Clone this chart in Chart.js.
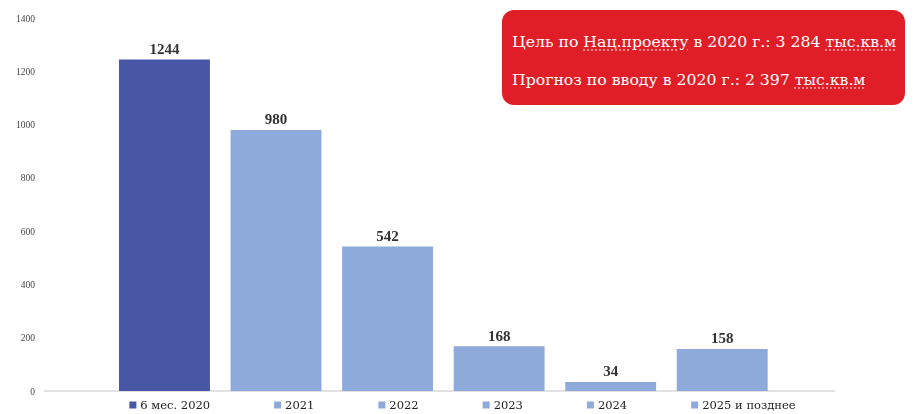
<!DOCTYPE html>
<html>
<head>
<meta charset="utf-8">
<script src="https://cdn.jsdelivr.net/npm/chart.js@4"></script>
<style>
    html, body { margin: 0; padding: 0; background: #fff; }
    #wrap { position: relative; width: 913px; height: 414px; }
    #note {
        position: absolute; left: 502px; top: 10px; width: 403px; height: 95px;
        box-sizing: border-box; background: #e01e27; border-radius: 12px;
        color: #fff; font-family: 'DejaVu Serif', serif; font-size: 15.7px;
        padding: 13px 0 0 10px; line-height: 38px; white-space: nowrap;
    }
    #note u { text-decoration: underline dotted rgba(255,255,255,0.6); text-underline-offset: 3px; }
</style>
</head>
<body>
<div id="wrap">
    <canvas id="chart" width="913" height="414"></canvas>
    <div id="note">
        Цель по <u>Нац.проекту</u> в 2020 г.: 3 284 <u>тыс.кв.м</u><br>
        Прогноз по вводу в 2020 г.: 2 397 <u>тыс.кв.м</u>
    </div>
</div>
<script>
// Данные
const categories = ['6 мес. 2020', '2021', '2022', '2023', '2024', '2025 и позднее'];
const values = [1244, 980, 542, 168, 34, 158];
const yTicks = [0, 200, 400, 600, 800, 1000, 1200, 1400];

const darkBlue = '#4757a6';
const lightBlue = '#8eaadb';
const barColors = categories.map((c, i) => i === 0 ? darkBlue : lightBlue);
const serif = "'Liberation Serif', 'DejaVu Serif', serif";
const wideSerif = "'DejaVu Serif', serif";

// Подписи значений над столбцами
const valueLabels = {
    id: 'valueLabels',
    afterDatasetsDraw(chart) {
        const ctx = chart.ctx;
        const meta = chart.getDatasetMeta(0);
        ctx.save();
        ctx.font = 'bold 15px ' + serif;
        ctx.fillStyle = '#333';
        ctx.textAlign = 'center';
        ctx.textBaseline = 'bottom';
        meta.data.forEach((bar, i) => {
            ctx.fillText(values[i], bar.x, bar.y - 2);
        });
        ctx.restore();
    }
};

// Ось Y: подписи слева, базовая линия шире области графика
const yAxisDraw = {
    id: 'yAxisDraw',
    beforeDatasetsDraw(chart) {
        const ctx = chart.ctx;
        const scale = chart.scales.y;
        const y0 = scale.getPixelForValue(0);
        ctx.save();
        ctx.strokeStyle = '#d9d9d9';
        ctx.lineWidth = 1.5;
        ctx.beginPath();
        ctx.moveTo(chart.chartArea.left - 65, y0);
        ctx.lineTo(chart.chartArea.right + 57, y0);
        ctx.stroke();

        ctx.font = '9.5px ' + serif;
        ctx.fillStyle = '#444';
        ctx.textAlign = 'right';
        ctx.textBaseline = 'middle';
        yTicks.forEach(v => {
            ctx.fillText(v, 35, scale.getPixelForValue(v) + 1);
        });
        ctx.restore();
    }
};

// Легенда снизу, элементы с равными промежутками
const bottomLegend = {
    id: 'bottomLegend',
    afterDraw(chart) {
        const ctx = chart.ctx;
        const gap = 64, box = 7, boxGap = 4;
        ctx.save();
        ctx.font = '11.5px ' + wideSerif;
        const widths = categories.map(c => box + boxGap + ctx.measureText(c).width);
        const total = widths.reduce((a, b) => a + b, 0) + gap * (categories.length - 1);
        let x = chart.width / 2 + 6 - total / 2;
        const y = 405;
        ctx.textBaseline = 'middle';
        categories.forEach((c, i) => {
            ctx.fillStyle = barColors[i];
            ctx.fillRect(x, y - box / 2, box, box);
            ctx.fillStyle = '#222';
            ctx.fillText(c, x + box + boxGap, y + 1);
            x += widths[i] + gap;
        });
        ctx.restore();
    }
};

new Chart(document.getElementById('chart'), {
    type: 'bar',
    data: {
        labels: categories,
        datasets: [{
            data: values,
            backgroundColor: barColors,
            borderWidth: 0,
            barPercentage: 0.815,
            categoryPercentage: 1
        }]
    },
    options: {
        responsive: false,
        animation: false,
        layout: { padding: { top: 18, right: 135, bottom: 15, left: 0 } },
        plugins: {
            legend: { display: false },
            tooltip: { enabled: false }
        },
        scales: {
            x: {
                ticks: { display: false },
                grid: { display: false },
                border: { display: false }
            },
            y: {
                min: 0,
                max: 1400,
                afterBuildTicks: axis => { axis.ticks = yTicks.map(v => ({ value: v })); },
                afterFit: axis => { axis.width = 108.7; },
                ticks: { display: false },
                grid: { display: false, drawTicks: false },
                border: { display: false }
            }
        }
    },
    plugins: [yAxisDraw, valueLabels, bottomLegend]
});
</script>
</body>
</html>
